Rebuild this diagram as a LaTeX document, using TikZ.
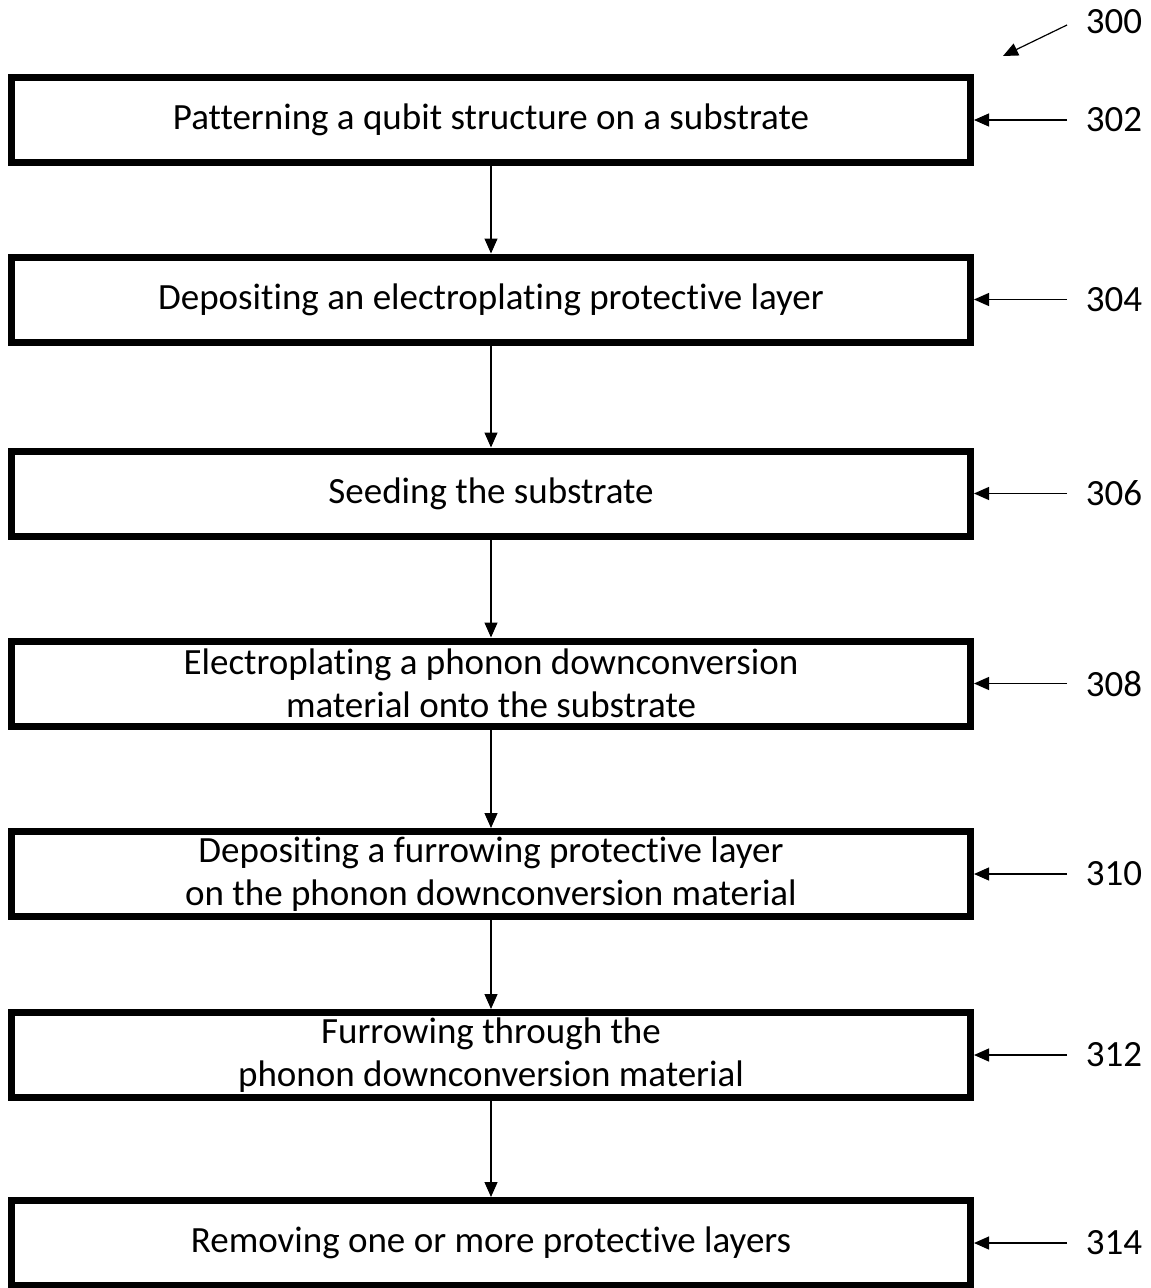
\documentclass[tikz,border=0pt]{standalone}
\usepackage{fontspec}
\setmainfont[Ligatures=NoCommon]{Carlito}
\usetikzlibrary{arrows.meta}
\begin{document}
\begin{tikzpicture}[x=1pt,y=-1pt,
  stepbox/.style={draw,line width=7pt,minimum width=959pt,minimum height=85pt,inner sep=0pt,align=center,font=\fontsize{37}{43}\selectfont},
  flow/.style={line width=1.2pt,-{Triangle[width=13pt,length=15pt]}},
  reflabel/.style={font=\fontsize{37}{40}\selectfont,anchor=center}]
\useasboundingbox (0,0) rectangle (1151,1288);
\node[stepbox] (b1) at (491,120) {Patterning a qubit structure on a substrate};
\node[stepbox] (b2) at (491,299.5) {Depositing an electroplating protective layer};
\node[stepbox] (b3) at (491,493.5) {Seeding the substrate};
\node[stepbox] (b4) at (491,683.5) {Electroplating a phonon downconversion\\material onto the substrate};
\node[stepbox] (b5) at (491,874) {Depositing a furrowing protective layer\\on the phonon downconversion material};
\node[stepbox] (b6) at (491,1055) {Furrowing through the\\phonon downconversion material};
\node[stepbox] (b7) at (491,1243) {Removing one or more protective layers};
\foreach \a/\b in {b1/b2,b2/b3,b3/b4,b4/b5,b5/b6,b6/b7}
  \draw[flow] (\a.south) -- (\b.north);
\foreach \n/\t in {b1/302,b2/304,b3/306,b4/308,b5/310,b6/312,b7/314}{
  \node[reflabel] (l\t) at (1114,0 |- \n.east) {\t};
  \coordinate (s\t) at (1067,0 |- \n.east);
  \draw[flow] (s\t) -- (\n.east);
}
\node[reflabel] (l300) at (1114,22) {300};
\coordinate (s300) at (1067,25);
\coordinate (e300) at (1003,56);
\draw[flow] (s300) -- (e300);
\end{tikzpicture}
\end{document}
